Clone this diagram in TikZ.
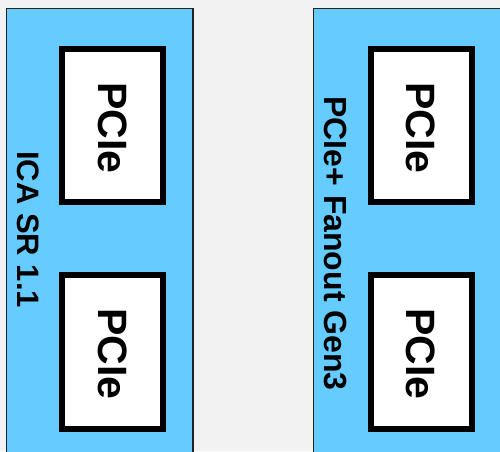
\documentclass[tikz,border=0pt]{standalone}
\usepackage{fontspec}
\setmainfont{Liberation Sans}
\definecolor{bgc}{HTML}{F2F2F2}
\definecolor{panelc}{HTML}{66CCFF}
\definecolor{edgec}{HTML}{222222}
\begin{document}
\begin{tikzpicture}[x=1pt,y=-1pt,
  panel/.style={fill=panelc,draw=edgec,line width=1.2pt},
  cardbox/.style={fill=white,draw=black,line width=6pt,minimum width=101pt,inner sep=0pt},
  cardtext/.style={font=\fontsize{41}{41}\selectfont\bfseries,rotate=-90,anchor=base,inner sep=0pt},
  paneltext/.style={inner sep=0pt,rotate=-90,anchor=base}]
\fill[bgc] (0,0) rectangle (500,451);
\useasboundingbox (0,0) rectangle (500,451);
% panels
\draw[panel] (6.5,8.5) rectangle (193,460);
\draw[panel] (313.5,8.5) rectangle (510,460);
% cards
\node[cardbox,minimum height=153pt] (b1) at (112.5,125.5) {};
\node[cardbox,minimum height=154pt] (b2) at (112.5,352) {};
\node[cardbox,minimum height=153pt] (b3) at (421.5,125.5) {};
\node[cardbox,minimum height=154pt] (b4) at (421.5,352) {};
\node[cardtext] (c1) at (98.5,128) {PCIe};
\node[cardtext] (c2) at (98.5,354) {PCIe};
\node[cardtext] (c3) at (406.5,128) {PCIe};
\node[cardtext] (c4) at (406.5,354) {PCIe};
\node[paneltext,font=\fontsize{31}{31}\selectfont\bfseries] (l1) at (17,229.5) {ICA SR 1.1};
\node[paneltext,font=\fontsize{32}{32}\selectfont\bfseries] (l2) at (324,243.5) {PCIe+ Fanout Gen3};
\end{tikzpicture}
\end{document}
